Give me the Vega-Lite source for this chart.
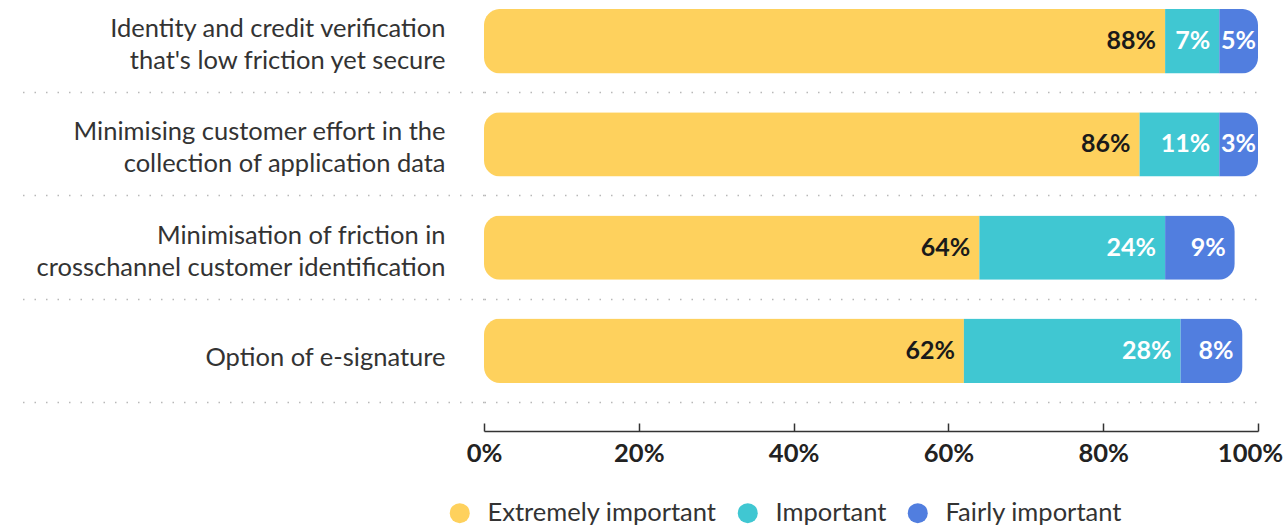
{
  "$schema": "https://vega.github.io/schema/vega-lite/v6.json",
  "width": 774,
  "height": 392,
  "autosize": {"type": "none"},
  "padding": {"left": 484, "top": 0, "right": 27, "bottom": 134},
  "config": {"font": "Lato", "view": {"stroke": null}},
  "data": {
    "values": [
      {"item": "Identity and credit verification |that's low friction yet secure", "series": "Extremely important", "rank": 1, "value": 88, "label": "88%"},
      {"item": "Identity and credit verification |that's low friction yet secure", "series": "Important", "rank": 2, "value": 7, "label": "7%"},
      {"item": "Identity and credit verification |that's low friction yet secure", "series": "Fairly important", "rank": 3, "value": 5, "label": "5%"},
      {"item": "Minimising customer effort in the |collection of application data", "series": "Extremely important", "rank": 1, "value": 84.7, "label": "86%"},
      {"item": "Minimising customer effort in the |collection of application data", "series": "Important", "rank": 2, "value": 10.3, "label": "11%"},
      {"item": "Minimising customer effort in the |collection of application data", "series": "Fairly important", "rank": 3, "value": 5, "label": "3%"},
      {"item": "Minimisation of friction in |crosschannel customer identification", "series": "Extremely important", "rank": 1, "value": 64, "label": "64%"},
      {"item": "Minimisation of friction in |crosschannel customer identification", "series": "Important", "rank": 2, "value": 24, "label": "24%"},
      {"item": "Minimisation of friction in |crosschannel customer identification", "series": "Fairly important", "rank": 3, "value": 9, "label": "9%"},
      {"item": "Option of e-signature", "series": "Extremely important", "rank": 1, "value": 62, "label": "62%"},
      {"item": "Option of e-signature", "series": "Important", "rank": 2, "value": 28, "label": "28%"},
      {"item": "Option of e-signature", "series": "Fairly important", "rank": 3, "value": 8, "label": "8%"}
    ]
  },
  "encoding": {
    "y": {
      "field": "item",
      "type": "nominal",
      "sort": null,
      "scale": {"paddingInner": 0.376, "paddingOuter": 0.087},
      "axis": {
        "title": null,
        "domain": false,
        "ticks": true,
        "tickSize": 469,
        "tickColor": "#b8b8b8",
        "tickDash": [1.5, 10],
        "tickWidth": 1.5,
        "grid": true,
        "gridColor": "#b8b8b8",
        "gridDash": [1.5, 10],
        "gridWidth": 1.5,
        "bandPosition": 1.3,
        "labelOffset": {"condition": {"test": "indexof(datum.label, '|') >= 0", "value": -12}, "value": 7},
        "labelPadding": -430,
        "labelFontSize": 25.5,
        "labelColor": "#333333",
        "labelExpr": "split(datum.label, '|')",
        "labelLineHeight": 32,
        "labelLimit": 0
      }
    }
  },
  "layer": [
    {
      "mark": {"type": "bar", "cornerRadius": 16},
      "encoding": {
        "x": {
          "field": "value",
          "type": "quantitative",
          "stack": "zero",
          "scale": {"domain": [0, 100]},
          "axis": {
            "title": null,
            "values": [0, 20, 40, 60, 80, 100],
            "labelExpr": "datum.value + '%'",
            "grid": false,
            "domainColor": "#333333",
            "domainWidth": 1.5,
            "tickColor": "#333333",
            "tickWidth": 1.5,
            "tickSize": -8,
            "offset": 39,
            "labelFontSize": 25.5,
            "labelFontWeight": "bold",
            "labelColor": "#222222",
            "labelPadding": 18,
            "labelFlush": false,
            "labelOffset": {"condition": {"test": "datum.value === 100", "value": -8}, "value": 0}
          }
        },
        "color": {
          "field": "series",
          "type": "nominal",
          "scale": {"domain": ["Extremely important", "Important", "Fairly important"], "range": ["#FED15D", "#40C7D2", "#517EDF"]},
          "legend": {
            "orient": "none",
            "legendX": -37,
            "legendY": 500,
            "direction": "horizontal",
            "title": null,
            "symbolType": "circle",
            "symbolSize": 400,
            "symbolStrokeWidth": 0,
            "symbolOpacity": 1,
            "labelFontSize": 25.5,
            "labelColor": "#333333",
            "labelOffset": 15,
            "columnPadding": 18,
            "labelLimit": 0
          }
        },
        "order": {"field": "rank", "type": "quantitative"}
      }
    },
    {
      "transform": [
        {"stack": "value", "groupby": ["item"], "sort": [{"field": "rank"}], "as": ["x0", "x1"]},
        {"filter": "datum.x1 - datum.x0 > 6"}
      ],
      "mark": {"type": "text", "align": "right", "baseline": "middle", "dx": -9, "fontSize": 25, "fontWeight": "bold"},
      "encoding": {
        "x": {"field": "x1", "type": "quantitative"},
        "text": {"field": "label"},
        "color": {"condition": {"test": "datum.rank == 1", "value": "#1a1a1a"}, "value": "#ffffff"}
      }
    },
    {
      "transform": [
        {"stack": "value", "groupby": ["item"], "sort": [{"field": "rank"}], "as": ["x0", "x1"]},
        {"filter": "datum.x1 - datum.x0 <= 6"}
      ],
      "mark": {"type": "text", "align": "right", "baseline": "middle", "dx": -2, "fontSize": 25, "fontWeight": "bold"},
      "encoding": {
        "x": {"field": "x1", "type": "quantitative"},
        "text": {"field": "label"},
        "color": {"value": "#ffffff"}
      }
    }
  ]
}
